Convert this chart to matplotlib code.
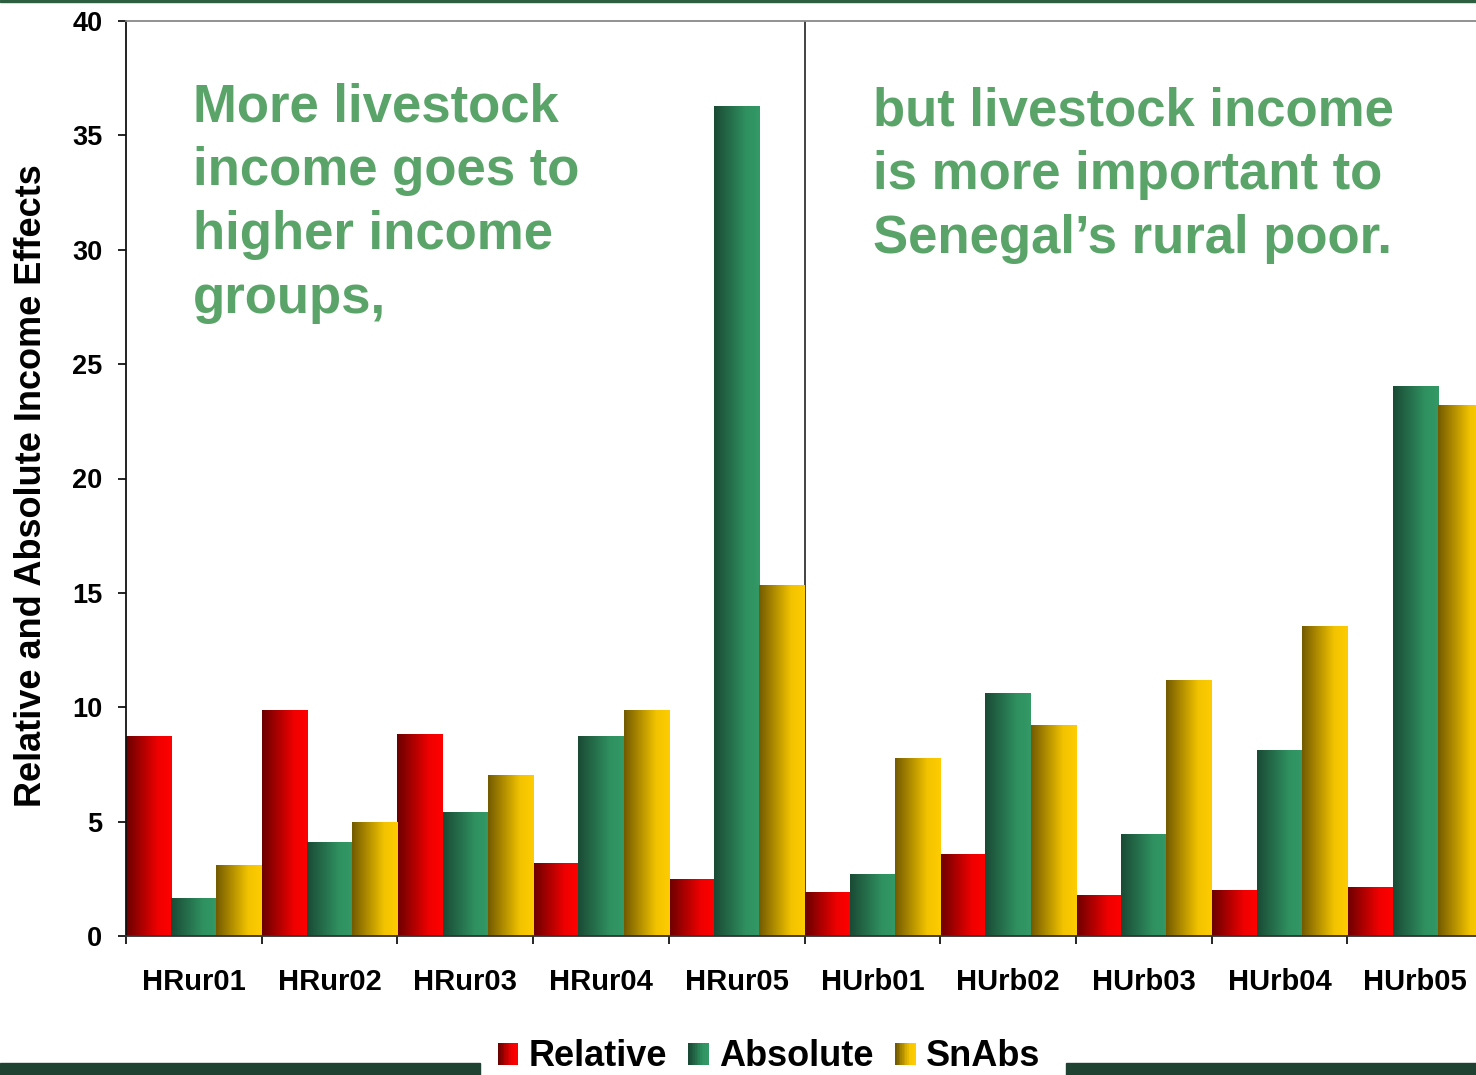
import numpy as np
import matplotlib
matplotlib.use('Agg')
import matplotlib.pyplot as plt
from matplotlib.colors import LinearSegmentedColormap
from matplotlib.patches import Rectangle, Patch
from matplotlib.legend_handler import HandlerBase

plt.rcParams['font.family'] = ['Liberation Sans', 'DejaVu Sans']
plt.rcParams['font.weight'] = 'bold'

# data
groups = ['HRur01', 'HRur02', 'HRur03', 'HRur04', 'HRur05',
          'HUrb01', 'HUrb02', 'HUrb03', 'HUrb04', 'HUrb05']
relative = [8.74, 9.84, 8.83, 3.19, 2.49, 1.88, 3.58, 1.75, 1.97, 2.10]
absolute = [1.62, 4.07, 5.42, 8.74, 36.28, 2.71, 10.58, 4.42, 8.13, 24.04]
snabs = [3.10, 4.94, 7.00, 9.84, 15.34, 7.74, 9.22, 11.19, 13.51, 23.17]
series_names = ['Relative', 'Absolute', 'SnAbs']

left_note = ['More livestock', 'income goes to', 'higher income', 'groups,']
right_note = ['but livestock income', 'is more important to', 'Senegal\u2019s rural poor.']

cmaps = [
    LinearSegmentedColormap.from_list('red', [(0, '#6a0000'), (0.7, '#f00000'), (1, '#ff0000')]),
    LinearSegmentedColormap.from_list('grn', [(0, '#1a4a35'), (0.7, '#2f9160'), (1, '#339966')]),
    LinearSegmentedColormap.from_list('gld', [(0, '#735a00'), (0.7, '#f2c300'), (1, '#ffcc00')]),
]

W, H = 1476, 1075
fig = plt.figure(figsize=(W / 100, H / 100), dpi=100)
ax = fig.add_axes([126 / W, (H - 936) / H, 1357 / W, 915 / H])

x = np.arange(len(groups))
bw = 1 / 3
grad = np.linspace(0, 1, 256).reshape(1, -1)
for k, vals in enumerate([relative, absolute, snabs]):
    bars = ax.bar(x + (k - 1) * bw, vals, width=bw, color='none', edgecolor='none')
    for b in bars:
        x0 = b.get_x()
        ax.imshow(grad, extent=[x0, x0 + b.get_width(), 0, b.get_height()],
                  cmap=cmaps[k], aspect='auto', zorder=2, interpolation='bilinear')

ax.axvline(4.5, color='#222222', lw=1.2, zorder=1)
ax.set_xlim(-0.5, 9.5)
ax.set_ylim(0, 40)

# axes styling
ax.spines['left'].set_color('#111111')
ax.spines['left'].set_linewidth(1.3)
ax.spines['bottom'].set_color('#333333')
ax.spines['bottom'].set_linewidth(1.3)
ax.spines['top'].set_color('#888888')
ax.spines['top'].set_linewidth(1.3)
ax.spines['right'].set_visible(False)

ax.set_yticks(np.arange(0, 41, 5))
ax.tick_params(axis='y', length=6, width=1.2, pad=11, labelsize=19.5)
ax.set_xticks(x)
ax.set_xticklabels(groups)
ax.set_xticks(np.arange(-0.5, 10, 1), minor=True)
ax.tick_params(axis='x', which='major', length=0, pad=23, labelsize=21)
ax.tick_params(axis='x', which='minor', length=6, width=1.2)

ax.set_ylabel('Relative and Absolute Income Effects', fontsize=26, fontweight='bold')
ax.yaxis.set_label_coords(-0.057, 0.492)

green = '#5aa469'
for i, line in enumerate(left_note):
    fig.text(193 / W, 1 - (121 + 64 * i) / H, line, color=green, fontsize=38,
             fontweight='bold', va='baseline', ha='left')
for i, line in enumerate(right_note):
    fig.text(873 / W, 1 - (125 + 64 * i) / H, line, color=green, fontsize=38,
             fontweight='bold', va='baseline', ha='left')

# decorative slide bars
fig.patches.append(Rectangle((0, 1 - 2 / H), 1, 2 / H, transform=fig.transFigure,
                             color='#2e5e40', zorder=0))
fig.patches.append(Rectangle((0, 0), 480 / W, 12 / H, transform=fig.transFigure,
                             color='#1f4232', zorder=0))
fig.patches.append(Rectangle((1066 / W, 0), 1 - 1066 / W, 12 / H, transform=fig.transFigure,
                             color='#1f4232', zorder=0))


class GradHandler(HandlerBase):
    def __init__(self, cmap):
        super().__init__()
        self.cmap = cmap

    def create_artists(self, legend, orig_handle, xdescent, ydescent, width, height, fontsize, trans):
        n = 12
        arts = []
        for i in range(n):
            arts.append(Rectangle((-xdescent + width * i / n, -ydescent), width / n + 0.3, height,
                                  facecolor=self.cmap(i / (n - 1)), edgecolor='none', transform=trans))
        return arts


handles = [Patch(label=n) for n in series_names]
hmap = {h: GradHandler(c) for h, c in zip(handles, cmaps)}
fig.legend(handles=handles, handler_map=hmap, loc='center', bbox_to_anchor=(769 / W, 18 / H),
           ncol=3, frameon=False, prop={'size': 26, 'weight': 'bold'},
           handlelength=0.55, handleheight=0.58, handletextpad=0.3, columnspacing=0.6,
           borderpad=0.1)

fig.savefig('out.png', dpi=100)
